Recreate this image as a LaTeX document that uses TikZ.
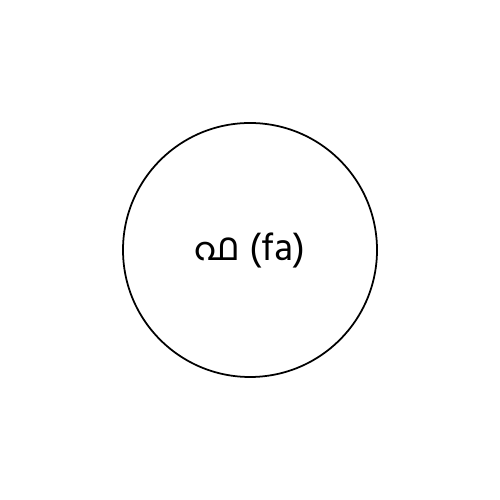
\documentclass[tikz,border=0pt]{standalone}
\usepackage{fontspec}
\newfontfamily\malfont[Script=Malayalam]{Hind Kochi}
\begin{document}
\begin{tikzpicture}[
  letter/.style={circle,draw=black,line width=1pt,minimum size=50.8mm,inner sep=0pt,font=\malfont\fontsize{22}{24}\selectfont}
]
\useasboundingbox (0,0) rectangle (10,10);
% Letter circle
\node[letter] (pha) at (5,5) {ഫ (fa)};
\end{tikzpicture}
\end{document}
